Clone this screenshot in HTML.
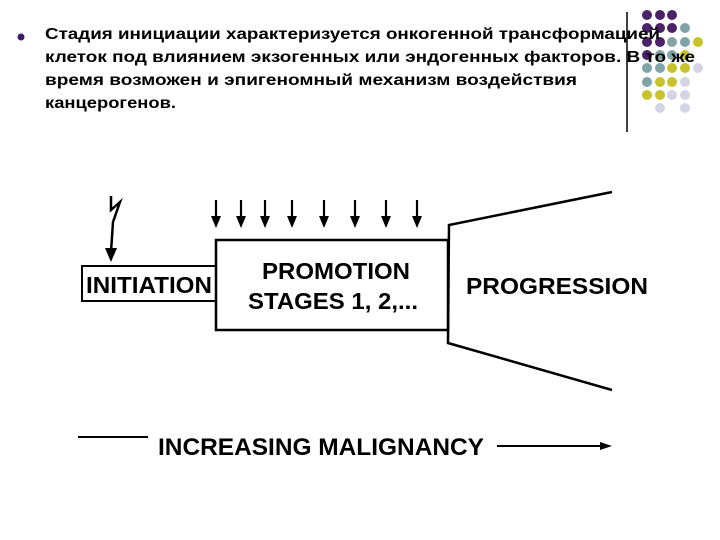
<!DOCTYPE html>
<html><head><meta charset="utf-8"><style>
html,body{margin:0;padding:0;background:#fff;width:720px;height:540px;overflow:hidden}
svg{display:block}
</style></head><body>
<svg width="720" height="540" xmlns="http://www.w3.org/2000/svg">
<rect width="720" height="540" fill="#fff"/>
<g>
<circle cx="647" cy="15" r="5" fill="#4b2167"/><circle cx="660" cy="15" r="5" fill="#4b2167"/><circle cx="672" cy="15" r="5" fill="#4b2167"/>
<circle cx="647" cy="28" r="5" fill="#4b2167"/><circle cx="660" cy="28" r="5" fill="#4b2167"/><circle cx="672" cy="28" r="5" fill="#4b2167"/><circle cx="685" cy="28" r="5" fill="#7fa3a6"/>
<circle cx="647" cy="42" r="5" fill="#4b2167"/><circle cx="660" cy="42" r="5" fill="#4b2167"/><circle cx="672" cy="42" r="5" fill="#7fa3a6"/><circle cx="685" cy="42" r="5" fill="#7fa3a6"/><circle cx="698" cy="42" r="5" fill="#c9c22a"/>
<circle cx="647" cy="55" r="5" fill="#4b2167"/><circle cx="660" cy="55" r="5" fill="#7fa3a6"/><circle cx="672" cy="55" r="5" fill="#7fa3a6"/><circle cx="685" cy="55" r="5" fill="#c9c22a"/>
<circle cx="647" cy="68" r="5" fill="#7fa3a6"/><circle cx="660" cy="68" r="5" fill="#7fa3a6"/><circle cx="672" cy="68" r="5" fill="#c9c22a"/><circle cx="685" cy="68" r="5" fill="#c9c22a"/><circle cx="698" cy="68" r="5" fill="#d4d4e4"/>
<circle cx="647" cy="82" r="5" fill="#7fa3a6"/><circle cx="660" cy="82" r="5" fill="#c9c22a"/><circle cx="672" cy="82" r="5" fill="#c9c22a"/><circle cx="685" cy="82" r="5" fill="#d4d4e4"/>
<circle cx="647" cy="95" r="5" fill="#c9c22a"/><circle cx="660" cy="95" r="5" fill="#c9c22a"/><circle cx="672" cy="95" r="5" fill="#d4d4e4"/><circle cx="685" cy="95" r="5" fill="#d4d4e4"/>
<circle cx="660" cy="108" r="5" fill="#d4d4e4"/><circle cx="685" cy="108" r="5" fill="#d4d4e4"/>
</g>
<line x1="627" y1="12" x2="627" y2="132" stroke="#000" stroke-width="1.5"/>
<circle cx="21" cy="37" r="3.5" fill="#3a1a6e"/>
<g font-family="Liberation Sans, sans-serif" font-weight="bold" font-size="16" fill="#000">
<text x="45" y="39" textLength="615" lengthAdjust="spacingAndGlyphs">Стадия инициации характеризуется онкогенной трансформацией</text>
<text x="45" y="62" textLength="650" lengthAdjust="spacingAndGlyphs">клеток под влиянием экзогенных или эндогенных факторов. В то же</text>
<text x="45" y="85" textLength="532" lengthAdjust="spacingAndGlyphs">время возможен и эпигеномный механизм воздействия</text>
<text x="45" y="108" textLength="131" lengthAdjust="spacingAndGlyphs">канцерогенов.</text>
</g>
<polyline points="111,196 111,210 120,202 113,222 111,252" fill="none" stroke="#000" stroke-width="2.5"/>
<polygon points="105,248 117,248 111,262" fill="#000"/>
<g stroke="#000" stroke-width="2.2" fill="#000">
<line x1="216" y1="200" x2="216" y2="218"/><polygon points="211,216 221,216 216,228" stroke="none"/>
<line x1="241" y1="200" x2="241" y2="218"/><polygon points="236,216 246,216 241,228" stroke="none"/>
<line x1="265" y1="200" x2="265" y2="218"/><polygon points="260,216 270,216 265,228" stroke="none"/>
<line x1="292" y1="200" x2="292" y2="218"/><polygon points="287,216 297,216 292,228" stroke="none"/>
<line x1="324" y1="200" x2="324" y2="218"/><polygon points="319,216 329,216 324,228" stroke="none"/>
<line x1="355" y1="200" x2="355" y2="218"/><polygon points="350,216 360,216 355,228" stroke="none"/>
<line x1="386" y1="200" x2="386" y2="218"/><polygon points="381,216 391,216 386,228" stroke="none"/>
<line x1="417" y1="200" x2="417" y2="218"/><polygon points="412,216 422,216 417,228" stroke="none"/>
</g>
<rect x="82" y="266" width="134" height="35" fill="none" stroke="#000" stroke-width="2"/>
<rect x="216" y="240" width="232" height="90" fill="#fff" stroke="#000" stroke-width="2.5"/>
<polyline points="612,192 449,225 448,343 612,390" fill="none" stroke="#000" stroke-width="2.5"/>
<g font-family="Liberation Sans, sans-serif" fill="#000" font-weight="bold">
<text x="86" y="293" font-size="23" textLength="126" lengthAdjust="spacingAndGlyphs">INITIATION</text>
<text x="262" y="279" font-size="23" textLength="148" lengthAdjust="spacingAndGlyphs">PROMOTION</text>
<text x="248" y="309" font-size="23" textLength="170" lengthAdjust="spacingAndGlyphs">STAGES 1, 2,...</text>
<text x="466" y="294" font-size="23" textLength="182" lengthAdjust="spacingAndGlyphs">PROGRESSION</text>
<text x="158" y="455" font-size="24" textLength="326" lengthAdjust="spacingAndGlyphs">INCREASING MALIGNANCY</text>
</g>
<line x1="78" y1="437" x2="148" y2="437" stroke="#000" stroke-width="2"/>
<line x1="497" y1="446" x2="602" y2="446" stroke="#000" stroke-width="2"/>
<polygon points="600,442 612,446 600,450" fill="#000"/>
</svg>
</body></html>
